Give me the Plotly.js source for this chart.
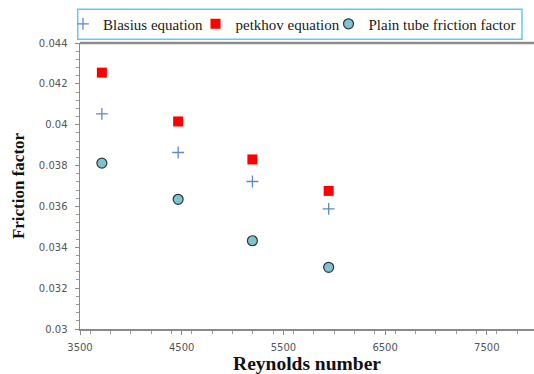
<!DOCTYPE html>
<html><head><meta charset="utf-8">
<script src="https://cdn.plot.ly/plotly-3.0.1.min.js"></script>
<style>html,body{margin:0;padding:0;background:#fff}#chart{width:534px;height:374px}</style>
</head><body><div id="chart"></div>
<script>
const reynolds = [3715, 4465, 5195, 5945];
const blasius = [0.04053, 0.03864, 0.03722, 0.03588];
const petukhov = [0.04255, 0.04016, 0.03830, 0.03676];
const plainTube = [0.03812, 0.03635, 0.03432, 0.03302];
const seriesNames = ['Blasius equation', 'petkhov equation', 'Plain tube friction factor'];

const traces = [
  {x: reynolds, y: blasius, name: seriesNames[0], mode: 'markers', type: 'scatter', legendwidth: 87.5,
   marker: {symbol: 'cross-thin', size: 8.5, line: {color: '#5f89cc', width: 1.3}, color: '#5f89cc'}},
  {x: reynolds, y: petukhov, name: seriesNames[1], mode: 'markers', type: 'scatter', legendwidth: 88,
   marker: {symbol: 'square', size: 10, color: '#ff0000', line: {width: 0}}},
  {x: reynolds, y: plainTube, name: seriesNames[2], mode: 'markers', type: 'scatter', legendwidth: 160,
   marker: {symbol: 'circle', size: 10, color: '#7fc3d3', line: {color: '#333333', width: 1.2}}}
];

const axisFont = {family: 'DejaVu Sans', size: 10, color: '#555555'};
const layout = {
  width: 534, height: 374,
  margin: {l: 80, r: 0, t: 43, b: 45},
  paper_bgcolor: '#ffffff', plot_bgcolor: '#ffffff',
  showlegend: true,
  legend: {orientation: 'h', x: -0.037, xanchor: 'left', y: 1.124, yanchor: 'top',
           font: {family: 'Liberation Serif', size: 15, color: '#1a1a1a'},
           bgcolor: 'rgba(0,0,0,0)', borderwidth: 0},
  xaxis: {range: [3500, 7964], tick0: 3500, dtick: 1000, showgrid: false, zeroline: false,
          showline: true, linecolor: '#8a8a8a', linewidth: 1.5,
          ticks: 'outside', ticklen: 4, tickcolor: '#8a8a8a', tickfont: axisFont,
          ticklabelstandoff: 4,
          minor: {dtick: 200, ticks: 'outside', ticklen: 3, tickcolor: '#9a9a9a', showgrid: false},
          title: {text: 'Reynolds number', font: {family: 'Liberation Serif', size: 19.5, color: '#111111', weight: 'bold'}, standoff: 7}},
  yaxis: {range: [0.03, 0.044], tick0: 0.03, dtick: 0.002, showgrid: false, zeroline: false,
          showline: true, linecolor: '#8a8a8a', linewidth: 1.5,
          ticks: 'outside', ticklen: 4, tickcolor: '#8a8a8a', tickfont: axisFont,
          tickformat: '~g', ticklabelstandoff: 5,
          minor: {dtick: 0.0004, ticks: 'outside', ticklen: 3, tickcolor: '#9a9a9a', showgrid: false},
          title: {text: 'Friction factor', font: {family: 'Liberation Serif', size: 17, color: '#111111', weight: 'bold'}, standoff: 10}},
  shapes: [
    {type: 'line', xref: 'paper', yref: 'paper', x0: 0, x1: 1, y0: 1, y1: 1,
     line: {color: '#8c8c8c', width: 2.5}},
    {type: 'rect', xref: 'paper', yref: 'paper', x0: -0.005, x1: 0.9736, y0: 1.013, y1: 1.118,
     line: {color: '#6cc6ec', width: 1.5}, fillcolor: 'rgba(0,0,0,0)'}
  ]
};
Plotly.newPlot('chart', traces, layout, {displayModeBar: false, staticPlot: true});
</script></body></html>
